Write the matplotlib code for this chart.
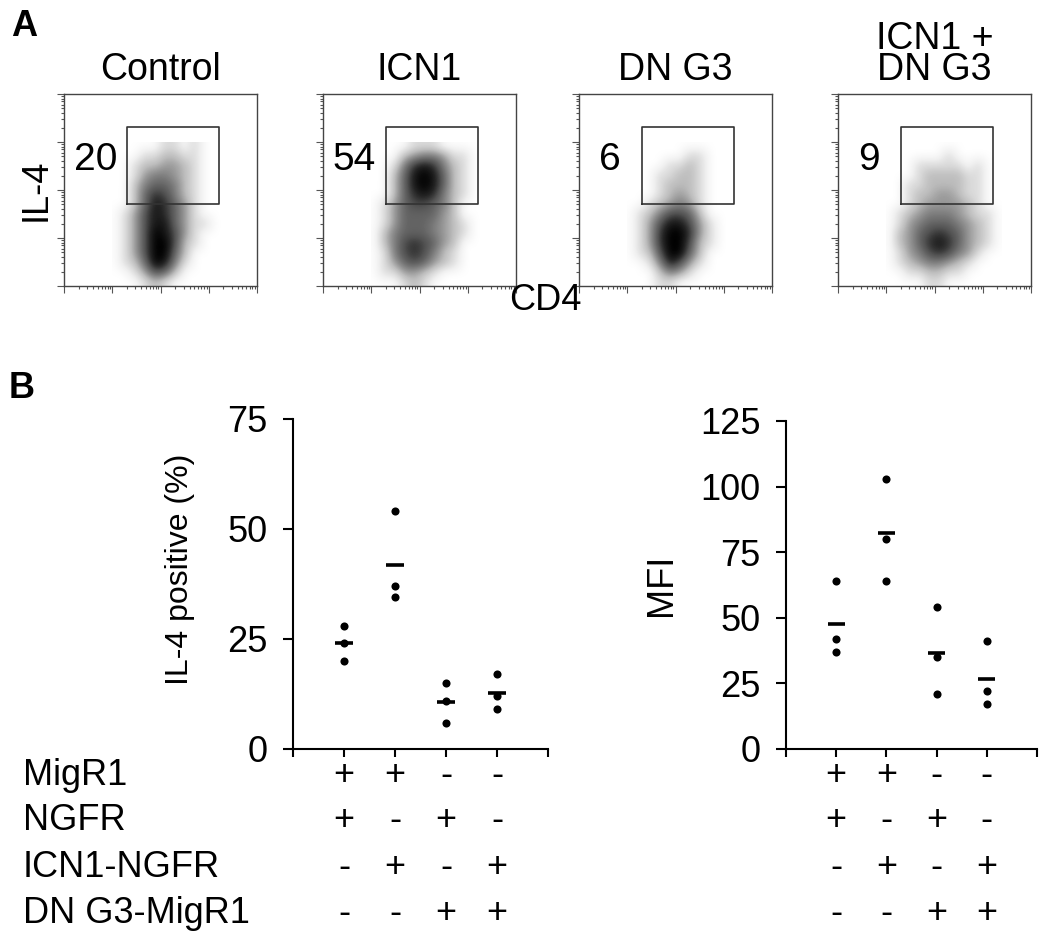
import numpy as np
import matplotlib
matplotlib.use("Agg")
import matplotlib.pyplot as plt
from matplotlib.colors import PowerNorm
from matplotlib.transforms import blended_transform_factory

plt.rcParams['font.family'] = ['Liberation Sans', 'DejaVu Sans']

W, H = 1050, 939

# ---------------- panel A: flow plots (log10 units, 0..4 decades) ----------------
flow_titles = ['Control', 'ICN1', 'DN G3', 'ICN1 +\nDN G3']
gate_pct = ['20', '54', '6', '9']
gate = [1.3, 3.21, 1.71, 3.31]          # x0, x1, y0, y1 in decades
grid_extent = [1.0, 3.4, 0.0, 3.0]     # area covered by the density grids

# event density (rows top -> bottom, 0..9)
dens_control = ["000001101000", "000112211000", "001223321000", "001344321000",
                "002455421000", "002576421000", "002587531000", "013687531000",
                "013688531100", "013698631000", "013699621000", "013699520000",
                "012598410000", "001365200000", "000121000000"]
dens_icn1 = ["000011100000", "000234431100", "001478742100", "002589852100",
             "002589852100", "002578742100", "013566542000", "013555532000",
             "013555432100", "024555432100", "024676532000", "014676421000",
             "013565321000", "011332100000", "000121000000"]
dens_dng3 = ["000000000000", "000000110000", "000011210000", "000112210000",
             "000122210000", "000123210000", "001234310000", "012466520000",
             "013688631000", "013799731000", "013799621000", "012699520000",
             "001486310000", "000243100000", "000110000000"]
dens_both = ["000000000000", "000000100000", "000111110100", "000122221100",
             "001122221100", "001223321100", "001233332100", "012344432110",
             "013455543210", "023567653210", "023578753210", "013467643100",
             "012344321000", "001122110000", "000011000000"]
flow_dens = [dens_control, dens_icn1, dens_dng3, dens_both]

# ---------------- panel B: dot plots ----------------
cond_labels = ['MigR1', 'NGFR', 'ICN1-NGFR', 'DN G3-MigR1']
signs = [['+', '+', '-', '-'],
         ['+', '-', '+', '-'],
         ['-', '+', '-', '+'],
         ['-', '-', '+', '+']]
il4_pos = [[28, 24, 20], [54, 37, 34.5], [15, 11, 6], [17, 12, 9]]
mfi = [[64, 42, 37], [103, 80, 64], [54, 35, 21], [41, 22, 17]]


def fbox(l, t, r, b):
    return [l / W, 1 - b / H, (r - l) / W, (b - t) / H]


fig = plt.figure(figsize=(10.5, 9.39), dpi=100)

flow_left = [64, 323, 579, 838]
minor = np.log10(np.concatenate([np.arange(2, 10) * 10.0 ** k for k in range(4)]))
for i in range(4):
    ax = fig.add_axes(fbox(flow_left[i], 94, flow_left[i] + 193, 286))
    g = np.array([[int(c) for c in row] for row in flow_dens[i]], dtype=float)
    ax.imshow(g, extent=grid_extent, origin='upper', cmap='Greys',
              norm=PowerNorm(0.65, vmin=0, vmax=9),
              interpolation='bicubic', aspect='auto')
    ax.plot([gate[0], gate[1], gate[1], gate[0], gate[0]],
            [gate[2], gate[2], gate[3], gate[3], gate[2]], color='#333333', lw=1.2)
    ax.text(0.65, 2.62, gate_pct[i], fontsize=28, ha='center', va='center')
    ax.set_xlim(0, 4)
    ax.set_ylim(0, 4)
    ax.set_xticks([0, 1, 2, 3, 4])
    ax.set_yticks([0, 1, 2, 3, 4])
    ax.set_xticks(minor, minor=True)
    ax.set_yticks(minor, minor=True)
    ax.tick_params(which='both', direction='out', labelbottom=False, labelleft=False,
                   color='#555555', width=0.8)
    ax.tick_params(which='major', length=5)
    ax.tick_params(which='minor', length=2.5)
    for s in ax.spines.values():
        s.set_color('#444444')
        s.set_linewidth(1.0)
    ax.set_title(flow_titles[i], fontsize=27, pad=10, linespacing=0.82)

fig.text(24 / W, 1 - 27 / H, 'A', fontsize=26, fontweight='bold', ha='center', va='center')
fig.text(36 / W, 1 - 190 / H, 'IL-4', fontsize=26, rotation=90, ha='center', va='center')
fig.text(545 / W, 1 - 301 / H, 'CD4', fontsize=26, ha='center', va='center')
fig.text(22 / W, 1 - 388 / H, 'B', fontsize=26, fontweight='bold', ha='center', va='center')

xs = np.arange(1, 5)


def dot_panel(box, vals, ymax, step):
    ax = fig.add_axes(box)
    for x, v in zip(xs, vals):
        ax.scatter([x] * len(v), v, s=34, color='black', zorder=3, linewidths=0)
        ax.hlines(np.mean(v), x - 0.17, x + 0.17, color='black', lw=2.6, zorder=4)
    ax.set_xlim(0, 5)
    ax.set_ylim(0, ymax)
    ax.set_yticks(np.arange(0, ymax + 1, step))
    ax.set_xticks(np.arange(0, 6))
    ax.set_xticklabels([])
    ax.spines['top'].set_visible(False)
    ax.spines['right'].set_visible(False)
    for s in ['left', 'bottom']:
        ax.spines[s].set_linewidth(1.5)
    ax.tick_params(axis='y', direction='out', length=7.5, width=1.5, pad=11, labelsize=26)
    ax.tick_params(axis='x', direction='out', length=6, width=1.5)
    tr = blended_transform_factory(ax.transData, fig.transFigure)
    base = [785, 830, 877, 923]
    for r in range(4):
        for x, sg in zip(xs, signs[r]):
            ax.text(x, 1 - base[r] / H, sg, transform=tr, fontsize=26,
                    ha='center', va='baseline', clip_on=False)
    return ax


dot_panel(fbox(293, 419, 548, 749), il4_pos, 75, 25)
dot_panel(fbox(786, 421, 1037, 749), mfi, 125, 25)

fig.text(180 / W, 1 - 569 / H, 'IL-4 positive (%)', fontsize=23, rotation=90,
         ha='center', va='center')
fig.text(661 / W, 1 - 585 / H, 'MFI', fontsize=26, rotation=90, ha='center', va='center')

for r, lab in enumerate(cond_labels):
    fig.text(23 / W, 1 - [785, 830, 877, 923][r] / H, lab, fontsize=26,
             ha='left', va='baseline')

fig.savefig('out.png', dpi=100)
